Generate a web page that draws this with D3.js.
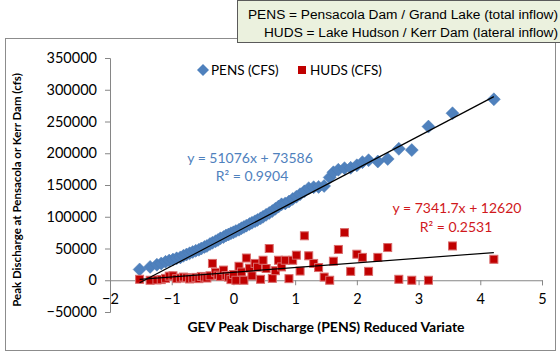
<!DOCTYPE html>
<html><head><meta charset="utf-8">
<script src="https://cdn.jsdelivr.net/npm/d3@7"></script>
<style>
body{margin:0;background:#fff;}
svg{display:block;}
</style>
</head><body>
<svg id="chart" width="560" height="355"></svg>
<script>
// ---------- data ----------
const reducedVariate = [-1.52,-1.35,-1.24,-1.17,-1.10,-1.04,-0.98,-0.92,-0.86,-0.81,
  -0.76,-0.71,-0.66,-0.61,-0.56,-0.52,-0.47,-0.43,-0.38,-0.34,
  -0.29,-0.25,-0.21,-0.16,-0.12,-0.08,-0.04,0.00,0.04,0.09,
  0.13,0.17,0.21,0.26,0.30,0.35,0.39,0.44,0.48,0.53,
  0.58,0.63,0.68,0.73,0.78,0.84,0.90,0.96,1.02,1.08,
  1.15,1.22,1.30,1.38,1.47,1.56,1.62,1.70,1.80,1.90,
  2.00,2.09,2.19,2.34,2.50,2.68,2.89,3.16,3.55,4.22];
const pensCfs = [17000,21000,24500,26500,29000,31000,32500,34500,36000,38500,
  40500,42500,44500,46500,48000,50000,52500,54000,57000,59000,
  61500,63500,66000,68000,70500,72000,74000,75500,77500,79500,
  82000,84000,86000,88500,90500,93000,95000,97500,100000,103000,
  106000,109000,112500,116000,119500,121000,124000,128000,131500,135500,
  140000,145000,146500,147000,148500,162000,170000,174000,176500,177000,
  181000,186000,189000,187000,191000,207000,205000,242000,263000,285000];
const hudsCfs = [1500,0,500,1000,3000,6500,7000,2500,3500,5000,
  4000,2000,3000,4500,2500,6000,5000,3500,7000,26500,
  12500,8000,6000,16000,7500,5000,1000,9000,0,22000,
  13000,0,35000,19000,7000,26500,20500,1500,31500,18500,
  50000,3000,15000,31500,21000,31500,2500,31500,39500,14500,
  70000,38500,26500,20000,5000,0,30000,48500,75000,14000,
  41000,36000,14000,36000,51500,1500,0,0,54000,33000];
const xTicks = [-2,-1,0,1,2,3,4,5];
const yTicks = [-50000,0,50000,100000,150000,200000,250000,300000,350000];
const pensTrend = {slope:51076, intercept:73586, label:"y = 51076x + 73586", r2:"R\u00B2 = 0.9904"};
const hudsTrend = {slope:7341.7, intercept:12620, label:"y = 7341.7x + 12620", r2:"R\u00B2 = 0.2531"};
const seriesNames = ["PENS (CFS)","HUDS (CFS)"];
const noteLines = ["PENS = Pensacola Dam / Grand Lake (total inflow)","HUDS = Lake Hudson / Kerr Dam (lateral inflow)"];

// ---------- drawing ----------
const svg = d3.select("#chart");
const BLUE = "#4F81BD", RED = "#C00000", RED_TXT = "#D0181C", AXIS = "#868686";
const FONT = "Lato, 'Open Sans', sans-serif";

// outer chart frame
svg.append("rect").attr("x",5.5).attr("y",38.5).attr("width",550).attr("height",312)
  .attr("fill","#fff").attr("stroke","#8c8c8c").attr("stroke-width",1);

// note box
const note = svg.append("g");
note.append("rect").attr("x",237.5).attr("y",0.5).attr("width",330).attr("height",42)
  .attr("fill","#EBF1DE").attr("stroke","#5a5a5a").attr("stroke-width",1);
note.selectAll("text").data(noteLines).join("text")
  .attr("x",558).attr("y",(d,i)=>19+i*17.5).attr("text-anchor","end")
  .attr("font-family","'Liberation Sans', Arial, sans-serif").attr("font-size",13.7)
  .attr("fill","#000").text(d=>d);

const x = d3.scaleLinear().domain([-2,5]).range([110,542]);
const y = d3.scaleLinear().domain([-50000,350000]).range([312,58]);

// y axis
const yAxis = svg.append("g").attr("transform",`translate(${x(-2)},0)`)
  .call(d3.axisLeft(y).tickValues(yTicks).tickFormat(d3.format("d")).tickSize(5).tickPadding(8));
// x axis at y=0
const xAxis = svg.append("g").attr("transform",`translate(0,${y(0)})`)
  .call(d3.axisBottom(x).tickValues(xTicks).tickFormat(d3.format("d")).tickSize(5).tickPadding(8));
[yAxis,xAxis].forEach(a=>{
  a.select(".domain").attr("stroke",AXIS);
  a.selectAll(".tick line").attr("stroke",AXIS);
  a.selectAll(".tick text").attr("font-family",FONT).attr("font-size",14.5).attr("fill","#000");
});
xAxis.selectAll(".tick text").attr("dy","0.75em");

const pts = reducedVariate.map((v,i)=>({x:v,p:pensCfs[i],h:hudsCfs[i]}));

// PENS diamonds
const dia = 6.5;
svg.append("g").selectAll("path").data(pts).join("path")
  .attr("d",d=>{const cx=x(d.x), cy=y(d.p);return `M${cx},${cy-dia}L${cx+dia},${cy}L${cx},${cy+dia}L${cx-dia},${cy}Z`;})
  .attr("fill",BLUE).attr("stroke","#4A7AB4").attr("stroke-width",0.5);

// HUDS squares
const sq = 8;
svg.append("g").selectAll("rect").data(pts).join("rect")
  .attr("x",d=>x(d.x)-sq/2).attr("y",d=>y(d.h)-sq/2).attr("width",sq).attr("height",sq)
  .attr("fill",RED).attr("stroke","#D96A6A").attr("stroke-width",1);

// trendlines
const xMin = d3.min(reducedVariate), xMax = d3.max(reducedVariate);
[pensTrend,hudsTrend].forEach(t=>{
  svg.append("line")
    .attr("x1",x(xMin)).attr("y1",y(t.slope*xMin+t.intercept))
    .attr("x2",x(xMax)).attr("y2",y(t.slope*xMax+t.intercept))
    .attr("stroke","#000").attr("stroke-width",1.2);
});

// trend labels
const lab = svg.append("g").attr("font-family",FONT).attr("font-size",14).attr("text-anchor","middle");
lab.append("text").attr("x",250).attr("y",163).attr("fill",BLUE).text(pensTrend.label);
lab.append("text").attr("x",252).attr("y",181).attr("fill",BLUE).text(pensTrend.r2);
lab.append("text").attr("x",457).attr("y",213).attr("fill",RED_TXT).text(hudsTrend.label);
lab.append("text").attr("x",456).attr("y",232).attr("fill",RED_TXT).text(hudsTrend.r2);

// legend
const leg = svg.append("g").attr("font-family",FONT).attr("font-size",13.5);
leg.append("path").attr("d","M203,64L209,70L203,76L197,70Z").attr("fill",BLUE);
leg.append("text").attr("x",211).attr("y",75).text(seriesNames[0]);
leg.append("rect").attr("x",298).attr("y",66).attr("width",8).attr("height",8).attr("fill",RED);
leg.append("text").attr("x",310).attr("y",75).text(seriesNames[1]);

// axis titles
svg.append("text").attr("x",326).attr("y",332).attr("text-anchor","middle")
  .attr("font-family",FONT).attr("font-weight","bold").attr("font-size",14)
  .text("GEV Peak Discharge (PENS) Reduced Variate");
svg.append("text").attr("transform","translate(21,190) rotate(-90)").attr("text-anchor","middle")
  .attr("font-family",FONT).attr("font-weight","bold").attr("font-size",11.5)
  .text("Peak Discharge at Pensacola or Kerr Dam (cfs)");
</script>
</body></html>
